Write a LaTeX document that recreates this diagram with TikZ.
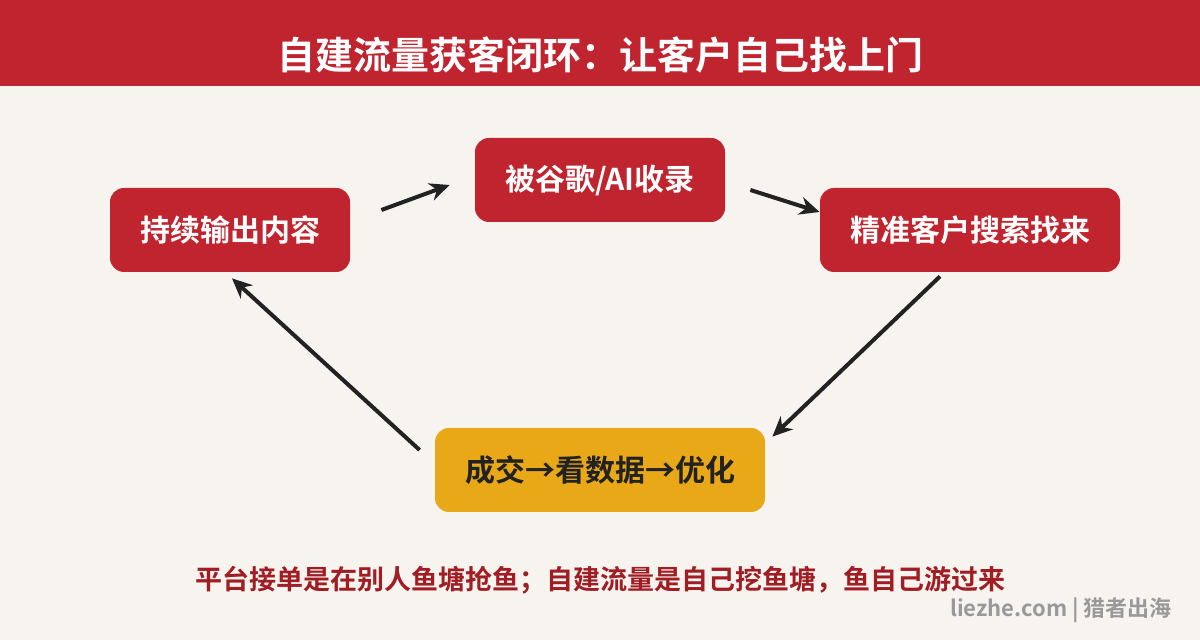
\documentclass[tikz,border=0pt]{standalone}
\usepackage{fontspec}
\setmainfont{Noto Sans CJK SC}[BoldFont={Noto Sans CJK SC Bold}]
\usepackage{tikz}
\usetikzlibrary{shapes,arrows.meta,positioning,calc}

\definecolor{bandred}{HTML}{C0242F}
\definecolor{paper}{HTML}{F7F4F0}
\definecolor{gold}{HTML}{E8A818}
\definecolor{ink}{HTML}{222222}
\definecolor{darkred}{HTML}{A11D24}
\definecolor{mark}{HTML}{999999}

\tikzset{
  stepbox/.style={draw=none, fill=bandred, rounded corners=7pt, text=white,
    font=\bfseries\fontsize{15pt}{18pt}\selectfont, minimum height=42pt, inner sep=0pt},
  goalbox/.style={stepbox, fill=gold, text=ink},
  flow/.style={draw=ink, line width=2pt, -{Stealth[length=10pt,width=9pt]}}
}

\begin{document}
\begin{tikzpicture}[x=0.5pt,y=-0.5pt]
	% background and header
	\fill[paper] (0,0) rectangle (1200,640);
	\useasboundingbox (0,0) rectangle (1200,640);
	\fill[bandred] (0,0) rectangle (1200,86);
	\node[text=white, font=\bfseries\fontsize{19pt}{22pt}\selectfont] (title) at (600,55) {自建流量获客闭环：让客户自己找上门};

	% the loop
	\node[stepbox, minimum width=120pt] (write) at (230,230) {持续输出内容};
	\node[stepbox, minimum width=125pt] (index) at (600,180) {被谷歌/AI收录};
	\node[stepbox, minimum width=150pt] (search) at (970,230) {精准客户搜索找来};
	\node[goalbox, minimum width=165pt] (deal) at (600,470) {成交→看数据→优化};

	\draw[flow] ($(write.east)+(31,-20)$) -- ($(index.west)+(-25,5)$);
	\draw[flow] ($(index.east)+(25,10)$) -- ($(search.west)+(0,-18)$);
	\draw[flow] ($(search.south)+(-30,4)$) -- ($(deal.north east)+(7,9)$);
	\draw[flow] ($(deal.west)+(-15,-20)$) -- ($(write.south)+(2,6)$);

	% footer
	\node[text=darkred, font=\bfseries\fontsize{13.5pt}{16pt}\selectfont] (moral) at (600,580) {平台接单是在别人鱼塘抢鱼；自建流量是自己挖鱼塘，鱼自己游过来};
	\node[text=mark, font=\bfseries\fontsize{11pt}{13pt}\selectfont, anchor=east] (site) at (1179,610) {liezhe.com | 猎者出海};
\end{tikzpicture}
\end{document}
